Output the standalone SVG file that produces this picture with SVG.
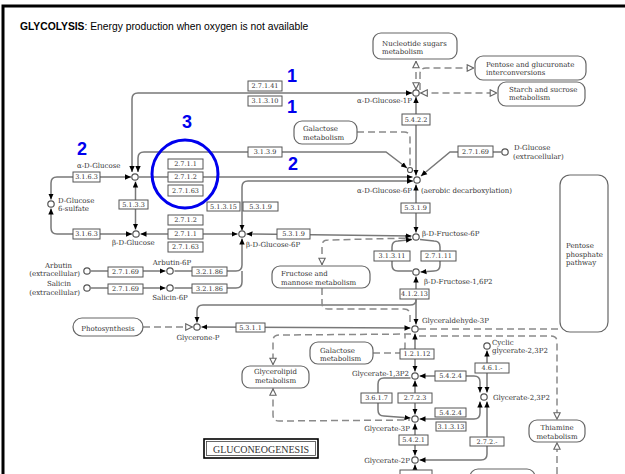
<svg xmlns="http://www.w3.org/2000/svg" width="625" height="474" viewBox="0 0 625 474">
<defs>
<marker id="a" viewBox="0 0 10 10" refX="10" refY="5" markerWidth="6" markerHeight="6" markerUnits="userSpaceOnUse" orient="auto-start-reverse"><path d="M0,0.5 L10,5 L0,9.5 z" fill="#000"/></marker>
<marker id="h" viewBox="0 0 10 10" refX="9.5" refY="5" markerWidth="8" markerHeight="8" markerUnits="userSpaceOnUse" orient="auto-start-reverse"><path d="M1,1 L9,5 L1,9 z" fill="#fff" stroke="#666" stroke-width="1.4"/></marker>
</defs>
<style>
.t{font-family:"Liberation Sans",Arial,sans-serif;font-size:10.3px;fill:#000}
.bl{font-family:"Liberation Sans",Arial,sans-serif;font-size:18px;font-weight:bold;fill:#0000ee;text-anchor:middle}
.k{font-family:"DejaVu Serif","Liberation Serif",serif;font-size:7px;fill:#333}
.e rect{fill:#fff;stroke:#555;stroke-width:1}
.e text{font-family:"DejaVu Serif","Liberation Serif",serif;font-size:6.5px;fill:#333;text-anchor:middle}
.m rect{fill:#fff;stroke:#666;stroke-width:1.2}
.c circle{fill:#fff;stroke:#555;stroke-width:1.2}
.s{fill:none;stroke:#787878;stroke-width:1.5}
.d{fill:none;stroke:#8a8a8a;stroke-width:1.5;stroke-dasharray:7 4}
.ae{marker-end:url(#a)}
.ab{marker-start:url(#a);marker-end:url(#a)}
.he{marker-end:url(#h)}
.hs{marker-start:url(#h)}
.hb{marker-start:url(#h);marker-end:url(#h)}
.mid{text-anchor:middle}
.end{text-anchor:end}
</style>
<rect width="625" height="474" fill="#fff"/>
<path d="M3,474 L3,6 L625,6" fill="none" stroke="#000" stroke-width="3"/>
<text class="t" x="20" y="29.5"><tspan font-weight="bold">GLYCOLYSIS</tspan>: Energy production when oxygen is not available</text>

<g id="connectors">
<path class="s ab" d="M132,172 L132,99 Q132,93 138,93 L412,93"/>
<path class="s ab" d="M138,172 L138,158 Q138,152 144,152 L386,152 L407,168"/>
<path class="d hb" d="M416,61 L416,89.5"/>
<path class="d he" d="M420,90 L420,74 Q420,68 426,68 L474,68"/>
<path class="d hb" d="M420.5,93 L497,93"/>
<path class="s ab" d="M416,97 L416,175.5"/>
<path class="d" d="M357,132 L404,132 Q410,132 410,138 L410,167"/>
<path class="s ae" d="M501,152 L450,152 L421,176"/>
<path class="s ae" d="M139,177 L412.5,177"/>
<path class="s ab" d="M242,230.5 L242,187 Q242,181 248,181 L413,181"/>
<path class="s ab" d="M51,199.5 L51,183 Q51,177 57,177 L131,177"/>
<path class="s ab" d="M51,208.5 L51,228 Q51,234 57,234 L132,234"/>
<path class="s ab" d="M135.5,181.5 L135.5,229.5"/>
<path class="s ab" d="M140.5,234 L237.5,234"/>
<path class="s ab" d="M246.5,234 L411.5,236"/>
<path class="s ab" d="M416,184.5 L416,232.5"/>
<path class="s ae" d="M412,271 L398,271 Q392,271 392,265 L392,247 Q392,241 398,241 L412,239.5"/>
<path class="s ae" d="M420,239.5 L434,241 Q440,241 440,247 L440,265 Q440,271 434,271 L420.5,272"/>
<path class="s ab" d="M416,276.5 L416,324.5"/>
<path class="s ae" d="M416,300 Q416,305 410,305 L203,305 Q197,305 197,311 L197,322.5"/>
<path class="d hs" d="M322,265 L322,246 Q322,240 328,240 L411,238"/>
<path class="d" d="M322,288 L322,303 Q322,309 328,309 L404,309 Q410,309 410,315 L410,324"/>
<path class="d he" d="M143,327 L192.5,327"/>
<path class="s ab" d="M201.5,327 L410.5,328"/>
<path class="d he" d="M411,334 L279,335 Q273,335 273,341 L273,365"/>
<path class="d hs" d="M273,388.5 L273,415 Q273,421 279,421 L410,420"/>
<path class="d" d="M373,353 L399,353 Q405,353 405,347 L405,334"/>
<path class="d" d="M419,329 L559,329"/>
<path class="d he" d="M419,336 L551,336 Q557,336 557,342 L557,419.5"/>
<path class="d he" d="M557,474 L557,442.5"/>
<path class="s ab" d="M415,333.5 L415,371.5"/>
<path class="s ab" d="M480,392.5 L480,382 Q480,376 474,376 L419.5,376"/>
<path class="s ae" d="M410.5,378 L384,378 Q378,378 378,384 L378,410 Q378,416 384,416 L410.5,418"/>
<path class="s ab" d="M415,380.5 L415,414.5"/>
<path class="s ab" d="M480,401.5 L480,413 Q480,419 474,419 L419.5,419"/>
<path class="s ab" d="M415,423.5 L415,455.5"/>
<path class="s ab" d="M487,392.5 L487,350.5"/>
<path class="s ab" d="M487,401.5 L487,454 Q487,460 481,460 L419.5,460"/>
<path class="s ae" d="M415,474 L415,464.5"/>
<path class="s ae" d="M91,271 L165.5,271"/>
<path class="s ae" d="M91,288 L165.5,288"/>
<path class="s ae" d="M174.5,271 L236,271 Q242,271 242,265 L242,238.5"/>
<path class="s" d="M174.5,288 L236,288 Q242,288 242,282 L242,271"/>
</g>

<g id="e-2-7-1-41" class="e"><rect x="248" y="81" width="34" height="10"/><text x="265" y="88.3">2.7.1.41</text></g>
<g id="e-3-1-3-10" class="e"><rect x="248" y="96" width="34" height="10"/><text x="265" y="103.3">3.1.3.10</text></g>
<g id="e-3-1-3-9" class="e"><rect x="248" y="147" width="34" height="10"/><text x="265" y="154.3">3.1.3.9</text></g>
<g id="e-5-4-2-2" class="e"><rect x="402" y="114" width="28" height="11"/><text x="416" y="121.8">5.4.2.2</text></g>
<g id="e-2-7-1-69-a" class="e"><rect x="458" y="146" width="35" height="11"/><text x="475.5" y="153.8">2.7.1.69</text></g>
<g id="e-2-7-1-1-a" class="e"><rect x="168" y="159" width="35" height="10"/><text x="185.5" y="166.3">2.7.1.1</text></g>
<g id="e-2-7-1-2-a" class="e"><rect x="168" y="172" width="35" height="10"/><text x="185.5" y="179.3">2.7.1.2</text></g>
<g id="e-2-7-1-63-a" class="e"><rect x="168" y="185" width="35" height="11"/><text x="185.5" y="192.8">2.7.1.63</text></g>
<g id="e-3-1-6-3-a" class="e"><rect x="73" y="172" width="27" height="10"/><text x="86.5" y="179.3">3.1.6.3</text></g>
<g id="e-5-1-3-3" class="e"><rect x="119" y="200" width="29" height="9"/><text x="133.5" y="206.8">5.1.3.3</text></g>
<g id="e-3-1-6-3-b" class="e"><rect x="73" y="229" width="27" height="10"/><text x="86.5" y="236.3">3.1.6.3</text></g>
<g id="e-5-1-3-15" class="e"><rect x="207" y="202" width="33" height="9"/><text x="223.5" y="208.8">5.1.3.15</text></g>
<g id="e-5-3-1-9-a" class="e"><rect x="243" y="202" width="35" height="9"/><text x="260.5" y="208.8">5.3.1.9</text></g>
<g id="e-2-7-1-2-b" class="e"><rect x="168" y="215" width="35" height="10"/><text x="185.5" y="222.3">2.7.1.2</text></g>
<g id="e-2-7-1-1-b" class="e"><rect x="168" y="229" width="35" height="10"/><text x="185.5" y="236.3">2.7.1.1</text></g>
<g id="e-2-7-1-63-b" class="e"><rect x="168" y="242" width="35" height="10"/><text x="185.5" y="249.3">2.7.1.63</text></g>
<g id="e-5-3-1-9-b" class="e"><rect x="277" y="229" width="33" height="10"/><text x="293.5" y="236.3">5.3.1.9</text></g>
<g id="e-5-3-1-9-c" class="e"><rect x="401" y="203" width="29" height="10"/><text x="415.5" y="210.3">5.3.1.9</text></g>
<g id="e-3-1-3-11" class="e"><rect x="374" y="251" width="36" height="10"/><text x="392" y="258.3">3.1.3.11</text></g>
<g id="e-2-7-1-11" class="e"><rect x="421" y="251" width="35" height="10"/><text x="438.5" y="258.3">2.7.1.11</text></g>
<g id="e-4-1-2-13" class="e"><rect x="400" y="289" width="29" height="10"/><text x="414.5" y="296.3">4.1.2.13</text></g>
<g id="e-2-7-1-69-b" class="e"><rect x="108" y="267" width="35" height="10"/><text x="125.5" y="274.3">2.7.1.69</text></g>
<g id="e-2-7-1-69-c" class="e"><rect x="108" y="284" width="35" height="10"/><text x="125.5" y="291.3">2.7.1.69</text></g>
<g id="e-3-2-1-86-a" class="e"><rect x="192" y="267" width="35" height="9"/><text x="209.5" y="273.8">3.2.1.86</text></g>
<g id="e-3-2-1-86-b" class="e"><rect x="192" y="284" width="35" height="9"/><text x="209.5" y="290.8">3.2.1.86</text></g>
<g id="e-5-3-1-1" class="e"><rect x="236" y="323" width="29" height="9"/><text x="250.5" y="329.8">5.3.1.1</text></g>
<g id="e-1-2-1-12" class="e"><rect x="400" y="349" width="34" height="10"/><text x="417" y="356.3">1.2.1.12</text></g>
<g id="e-5-4-2-4-a" class="e"><rect x="435" y="371" width="31" height="10"/><text x="450.5" y="378.3">5.4.2.4</text></g>
<g id="e-3-6-1-7" class="e"><rect x="361" y="393" width="31" height="10"/><text x="376.5" y="400.3">3.6.1.7</text></g>
<g id="e-2-7-2-3" class="e"><rect x="398" y="393" width="34" height="10"/><text x="415" y="400.3">2.7.2.3</text></g>
<g id="e-5-4-2-4-b" class="e"><rect x="435" y="408" width="31" height="9"/><text x="450.5" y="414.8">5.4.2.4</text></g>
<g id="e-3-1-3-13" class="e"><rect x="436" y="422" width="30" height="9"/><text x="451" y="428.8">3.1.3.13</text></g>
<g id="e-5-4-2-1" class="e"><rect x="399" y="435" width="29" height="10"/><text x="413.5" y="442.3">5.4.2.1</text></g>
<g id="e-4-6-1-x" class="e"><rect x="475" y="363" width="34" height="10"/><text x="492" y="370.3">4.6.1.-</text></g>
<g id="e-2-7-2-x" class="e"><rect x="470" y="437" width="34" height="9"/><text x="487" y="443.8">2.7.2.-</text></g>
<g id="e-bottom" class="e"><rect x="400" y="470" width="32" height="10"/></g>

<g id="m-nucleotide" class="m"><rect x="373" y="33" width="84" height="26" rx="8"/><text class="k" x="382" y="45.5">Nucleotide sugars</text><text class="k" x="382" y="54">metabolism</text></g>
<g id="m-pentose-gluc" class="m"><rect x="475" y="56" width="111" height="24" rx="8"/><text class="k" x="486" y="66.5">Pentose and glucuronate</text><text class="k" x="486" y="74.5">interconversions</text></g>
<g id="m-starch" class="m"><rect x="498" y="82" width="87" height="24" rx="8"/><text class="k" x="509" y="91.5">Starch and sucrose</text><text class="k" x="509" y="99.5">metabolism</text></g>
<g id="m-galactose-a" class="m"><rect x="294" y="121" width="63" height="23" rx="8"/><text class="k" x="303" y="131">Galactose</text><text class="k" x="303" y="139.5">metabolism</text></g>
<g id="m-ppp" class="m"><rect x="560" y="175" width="48" height="157" rx="10"/><text class="k" x="566" y="247.5">Pentose</text><text class="k" x="566" y="256.5">phosphate</text><text class="k" x="566" y="264.5">pathway</text></g>
<g id="m-fructose" class="m"><rect x="272" y="266" width="98" height="22" rx="8"/><text class="k" x="281" y="275.5">Fructose and</text><text class="k" x="281" y="284.5">mannose metabolism</text></g>
<g id="m-photo" class="m"><rect x="73" y="318" width="70" height="18" rx="9"/><text class="k mid" x="108" y="330.5">Photosynthesis</text></g>
<g id="m-galactose-b" class="m"><rect x="310" y="342" width="63" height="22" rx="8"/><text class="k" x="320" y="352.5">Galactose</text><text class="k" x="320" y="360.5">metabolism</text></g>
<g id="m-glycerolipid" class="m"><rect x="242" y="366" width="67" height="22" rx="8"/><text class="k mid" x="275.5" y="373.5">Glycerolipid</text><text class="k mid" x="275.5" y="382.5">metabolism</text></g>
<g id="m-thiamine" class="m"><rect x="529" y="420" width="56" height="22" rx="8"/><text class="k mid" x="557" y="429.5">Thiamine</text><text class="k mid" x="557" y="438.5">metabolism</text></g>
<g id="m-bottom" class="m"><rect x="470" y="469" width="65" height="20" rx="8"/></g>

<g id="gluconeogenesis"><rect x="204" y="439" width="114" height="19" fill="#fff" stroke="#000" stroke-width="1.6"/><rect x="206.5" y="441.5" width="109" height="14" fill="none" stroke="#444" stroke-width="0.8"/><text x="261" y="452.5" font-family="Liberation Serif,serif" font-size="10" fill="#333" text-anchor="middle">GLUCONEOGENESIS</text></g>

<g id="c-aglc1p" class="c"><circle cx="416" cy="93" r="3.2"/><text class="k end" x="412" y="102.5">α-D-Glucose-1P</text></g>
<g id="c-aglc" class="c"><circle cx="135" cy="177" r="3.2"/><text class="k" x="77" y="167.5">α-D-Glucose</text></g>
<g id="c-glc6s" class="c"><circle cx="51" cy="204" r="3.2"/><text class="k" x="58" y="202.5">D-Glucose</text><text class="k" x="58" y="211">6-sulfate</text></g>
<g id="c-bglc" class="c"><circle cx="136" cy="234" r="3.2"/><text class="k" x="112" y="244.5">β-D-Glucose</text></g>
<g id="c-aglc6p" class="c"><circle cx="410" cy="170" r="2.5"/><circle cx="417" cy="180" r="3.2"/><text class="k end" x="412" y="192.5">α-D-Glucose-6P</text><text class="k" x="421" y="192.5">(aerobic decarboxylation)</text></g>
<g id="c-glcext" class="c"><circle cx="505" cy="152" r="3.2"/><text class="k" x="514" y="149.5">D-Glucose</text><text class="k" x="513" y="158.5">(extracellular)</text></g>
<g id="c-bglc6p" class="c"><circle cx="242" cy="234" r="3.2"/><text class="k" x="246" y="246.5">β-D-Glucose-6P</text></g>
<g id="c-fru6p" class="c"><circle cx="416" cy="237" r="3.2"/><text class="k" x="422" y="236">β-D-Fructose-6P</text></g>
<g id="c-fru16p2" class="c"><circle cx="416" cy="272" r="3.2"/><text class="k" x="424" y="283.5">β-D-Fructose-1,6P2</text></g>
<g id="c-arbutin" class="c"><circle cx="87" cy="271" r="3.2"/><text class="k end" x="72" y="267.5">Arbutin</text><text class="k end" x="80" y="275.5">(extracellular)</text></g>
<g id="c-salicin" class="c"><circle cx="87" cy="288" r="3.2"/><text class="k end" x="71" y="285.5">Salicin</text><text class="k end" x="80" y="294.5">(extracellular)</text></g>
<g id="c-arbutin6p" class="c"><circle cx="170" cy="271" r="3.2"/><text class="k mid" x="172" y="264.5">Arbutin-6P</text></g>
<g id="c-salicin6p" class="c"><circle cx="170" cy="288" r="3.2"/><text class="k mid" x="170" y="300">Salicin-6P</text></g>
<g id="c-glyceroneP" class="c"><circle cx="197" cy="327" r="3.2"/><text class="k mid" x="198" y="339.5">Glycerone-P</text></g>
<g id="c-gap" class="c"><circle cx="415" cy="329" r="3.2"/><text class="k" x="422" y="322.5">Glyceraldehyde-3P</text></g>
<g id="c-g13p2" class="c"><circle cx="415" cy="376" r="3.2"/><text class="k end" x="409" y="375.5">Glycerate-1,3P2</text></g>
<g id="c-g3p" class="c"><circle cx="415" cy="419" r="3.2"/><text class="k end" x="410" y="430.5">Glycerate-3P</text></g>
<g id="c-g2p" class="c"><circle cx="415" cy="460" r="3.2"/><text class="k end" x="410" y="462.5">Glycerate-2P</text></g>
<g id="c-cyclic" class="c"><circle cx="487" cy="346" r="3.2"/><text class="k" x="492" y="344.5">Cyclic</text><text class="k" x="492" y="352.5">glycerate-2,3P2</text></g>
<g id="c-g23p2" class="c"><circle cx="484" cy="397" r="3.2"/><text class="k" x="493" y="399.5">Glycerate-2,3P2</text></g>

<g id="annotations">
<ellipse cx="185" cy="174" rx="33" ry="34" fill="none" stroke="#0000ee" stroke-width="3"/>
<text class="bl" x="292" y="82">1</text>
<text class="bl" x="292" y="113">1</text>
<text class="bl" x="187" y="128">3</text>
<text class="bl" x="82" y="155">2</text>
<text class="bl" x="293" y="170">2</text>
</g>
</svg>
